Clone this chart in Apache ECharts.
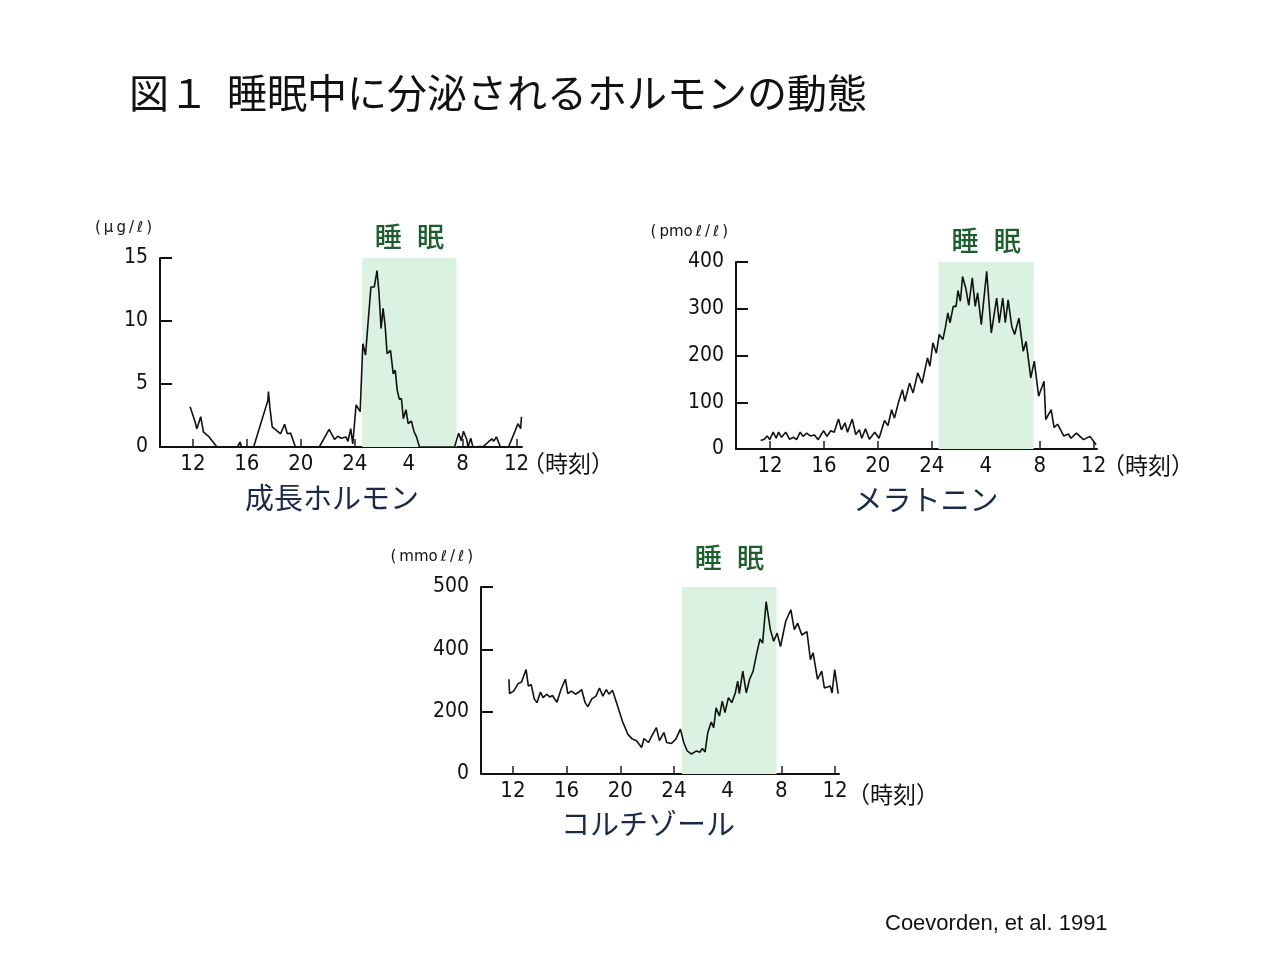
<!DOCTYPE html>
<html>
<head>
<meta charset="utf-8">
<script src="https://cdn.jsdelivr.net/npm/echarts@6/dist/echarts.min.js"></script>
<style>
  html, body { margin: 0; background: #fff; }
  #main { width: 1280px; height: 960px; }
</style>
</head>
<body>
<div id="main"></div>
<script>
// 時刻: 24 = 0時, 28 = 4時 ... 36 = 翌12時
var hourTicks = [12, 16, 20, 24, 28, 32, 36];

// 成長ホルモン (μg/ℓ)
var ghHours = [11.79, 12.16, 12.29, 12.58, 12.78, 13.16, 13.78, 15.3, 15.5, 15.6, 16.5, 17.56, 17.6, 17.7, 17.88,
  18.5, 18.8, 19.0, 19.25, 19.6, 21.37, 22.1, 22.5, 22.75, 23.0, 23.35, 23.5, 23.7, 23.85, 24.1, 24.4,
  24.6, 24.8, 25.0, 25.2, 25.45, 25.65, 25.8, 25.95, 26.1, 26.25, 26.4, 26.65, 26.85, 27.0, 27.15, 27.3,
  27.46, 27.6, 27.8, 27.96, 28.2, 28.4, 28.58, 28.8, 31.4, 31.7, 31.9, 32.06, 32.3, 32.4, 32.6, 32.76,
  33.55, 33.9, 34.17, 34.3, 34.5, 34.8, 35.4, 35.9, 36.1, 36.3, 36.36];
var ghValues = [3.2, 2.0, 1.45, 2.4, 1.2, 0.85, 0, 0, 0.4, 0, 0, 3.7, 4.4, 3.2, 1.6,
  1.05, 1.8, 1.05, 1.1, 0, 0, 1.4, 0.6, 0.85, 0.7, 0.8, 0.45, 1.45, 0.25, 3.35, 2.8,
  8.2, 7.3, 10.05, 12.7, 12.7, 14.0, 12.2, 9.4, 11.0, 9.65, 7.4, 7.67, 5.8, 6.1, 4.5, 3.8,
  3.85, 2.25, 2.96, 1.85, 2.06, 1.2, 0.8, 0, 0, 1.1, 0.5, 1.25, 0.6, 0, 0.7, 0,
  0.05, 0.4, 0.65, 0.45, 0.8, 0, 0, 1.3, 1.85, 1.45, 2.4];
var ghTicks = [0, 5, 10, 15];

// メラトニン (pmoℓ/ℓ)
var melHours = [11.31, 11.58, 11.79, 11.98, 12.24, 12.46, 12.64, 12.85, 13.17, 13.44, 13.76, 13.97, 14.24,
  14.45, 14.72, 14.98, 15.3, 15.57, 15.97, 16.23, 16.5, 16.76, 17.08, 17.3, 17.56, 17.75, 18.1, 18.36,
  18.63, 18.81, 19.08, 19.37, 19.77, 20.09, 20.49, 20.75, 21.02, 21.23, 21.55, 21.82, 22.0, 22.35, 22.61,
  22.96, 23.28, 23.68, 23.86, 24.08, 24.34, 24.55, 24.82, 25.0, 25.19, 25.35, 25.59, 25.8, 25.94, 26.12,
  26.28, 26.52, 26.74, 27.0, 27.22, 27.4, 27.67, 28.07, 28.41, 28.81, 29.0, 29.26, 29.45, 29.66, 29.93,
  30.14, 30.46, 30.78, 30.99, 31.34, 31.6, 31.92, 32.32, 32.45, 32.85, 33.07, 33.33, 33.78, 34.13, 34.32,
  34.72, 35.25, 35.73, 36.18];
var melValues = [18, 21, 28, 20, 36, 23, 36, 25, 36, 21, 25, 20, 36,
  27, 34, 28, 30, 20, 39, 27, 39, 36, 64, 41, 56, 36, 64, 31,
  41, 23, 43, 21, 36, 23, 61, 50, 84, 66, 102, 127, 102, 141, 120,
  163, 141, 195, 177, 227, 205, 245, 234, 259, 291, 270, 305, 305, 339, 316,
  369, 344, 307, 366, 305, 334, 266, 380, 248, 323, 270, 323, 270, 319, 262,
  245, 280, 209, 230, 152, 188, 113, 145, 63, 84, 46, 53, 28, 32, 23,
  34, 20, 27, 9];
var melTicks = [0, 100, 200, 300, 400];

// コルチゾール (mmoℓ/ℓ) — 目盛は等間隔、最上段の表記は原図どおり「500」
var corHours = [11.7, 11.75, 12.05, 12.39, 12.64, 12.98, 13.15, 13.36, 13.59, 13.79, 14.05, 14.25, 14.51,
  14.76, 14.94, 15.28, 15.58, 15.91, 16.09, 16.35, 16.66, 16.91, 17.12, 17.37, 17.58, 17.88, 18.19, 18.45,
  18.7, 18.96, 19.16, 19.42, 19.8, 20.18, 20.57, 20.9, 21.21, 21.59, 21.77, 22.1, 22.35, 22.69, 22.92,
  23.25, 23.46, 23.81, 24.14, 24.48, 24.73, 24.99, 25.3, 25.68, 25.94, 26.11, 26.32, 26.52, 26.78, 26.96,
  27.14, 27.39, 27.6, 27.8, 28.06, 28.31, 28.57, 28.75, 28.87, 29.13, 29.39, 29.64, 29.9, 30.15, 30.41,
  30.61, 30.87, 31.18, 31.43, 31.69, 31.94, 32.33, 32.71, 32.97, 33.22, 33.53, 33.91, 34.17, 34.37, 34.7,
  35.01, 35.21, 35.65, 35.78, 35.98, 36.24];
var corValues = [304, 258, 266, 290, 295, 335, 282, 287, 241, 229, 263, 245, 256,
  247, 252, 230, 271, 304, 258, 266, 256, 263, 271, 230, 216, 241, 250, 276,
  250, 271, 256, 269, 218, 167, 127, 112, 107, 85, 114, 101, 122, 149, 107,
  133, 101, 98, 112, 144, 101, 74, 64, 74, 70, 82, 71, 133, 167, 149,
  212, 186, 234, 197, 245, 229, 260, 298, 258, 330, 260, 304, 330, 383, 433,
  420, 553, 464, 426, 452, 409, 490, 527, 463, 484, 446, 457, 367, 389, 304,
  330, 276, 282, 260, 335, 258];
var corTicks = [0, 200, 400, 600];
var corTickLabels = ['0', '200', '400', '500'];

// 睡眠時間帯 (網掛け)
var ghSleep = [24.55, 31.55];
var melSleep = [24.5, 31.55];
var corSleep = [24.6, 31.65];

var jpFont = '"Noto Sans CJK JP", sans-serif';
var numFont = '"DejaVu Sans Condensed", "DejaVu Sans", sans-serif';

var panels = [
  { name: '成長ホルモン', unit: '(\u2009μ\u2009g\u2009/\u2009ℓ\u2009)', hours: ghHours, values: ghValues, sleep: ghSleep,
    ticks: ghTicks, tickLabels: null,
    left: 160, top: 258, width: 362, height: 189, xMin: 9.56, xMax: 36.4,
    labelGap: 8, timeX: 517, timeY: 458, subX: 327, subY: 493 },
  { name: 'メラトニン', unit: '(\u2009pmo\u2009ℓ\u2009/\u2009ℓ\u2009)', hours: melHours, values: melValues, sleep: melSleep,
    ticks: melTicks, tickLabels: null,
    left: 736, top: 262, width: 361, height: 187, xMin: 9.48, xMax: 36.25,
    labelGap: 8, timeX: 1097, timeY: 460, subX: 921, subY: 495 },
  { name: 'コルチゾール', unit: '(\u2009mmo\u2009ℓ\u2009/\u2009ℓ\u2009)', hours: corHours, values: corValues, sleep: corSleep,
    ticks: corTicks, tickLabels: corTickLabels,
    left: 481, top: 587, width: 358, height: 187, xMin: 9.62, xMax: 36.3,
    labelGap: 16, timeX: 842, timeY: 789, subX: 643, subY: 819 }
];

var grids = [], xAxes = [], yAxes = [], series = [];
var titles = [
  { text: '図１  睡眠中に分泌されるホルモンの動態', left: 124, top: 68,
    textStyle: { fontFamily: jpFont, fontSize: 40, fontWeight: 'normal', color: '#111' } },
  { text: 'Coevorden, et al. 1991', left: 880, top: 908,
    textStyle: { fontFamily: '"Liberation Sans", Arial, sans-serif', fontSize: 22, fontWeight: 'normal', color: '#111' } }
];

panels.forEach(function (p, i) {
  grids.push({ left: p.left, top: p.top, width: p.width, height: p.height });
  xAxes.push({
    gridIndex: i, type: 'value', min: p.xMin, max: p.xMax,
    axisLine: { show: true, onZero: false, lineStyle: { color: '#111', width: 2 } },
    axisTick: { show: true, inside: true, length: 8, customValues: hourTicks, lineStyle: { color: '#222', width: 1.5 } },
    axisLabel: {
      customValues: hourTicks, margin: 6, fontSize: 22, color: '#111', fontFamily: numFont,
      formatter: function (v) { return v > 24 ? String(v - 24) : String(v); }
    },
    splitLine: { show: false }
  });
  var last = p.ticks[p.ticks.length - 1];
  yAxes.push({
    gridIndex: i, type: 'value', min: 0, max: last, interval: p.ticks[1] - p.ticks[0],
    axisLine: { show: true, lineStyle: { color: '#111', width: 2 } },
    axisTick: { show: true, inside: true, length: 12, lineStyle: { color: '#111', width: 2 } },
    axisLabel: {
      margin: 12, fontSize: 21, color: '#111', fontFamily: numFont,
      formatter: function (v) {
        var k = p.ticks.indexOf(v);
        return p.tickLabels && k >= 0 ? p.tickLabels[k] : String(v);
      }
    },
    splitLine: { show: false },
    name: p.unit, nameLocation: 'end', nameGap: 22,
    nameTextStyle: { fontFamily: '"DejaVu Sans", sans-serif', fontSize: 15, color: '#111', align: 'right', padding: [0, 8, 0, 0] }
  });
  series.push({
    type: 'line', xAxisIndex: i, yAxisIndex: i, symbol: 'none', z: 3,
    data: p.hours.map(function (h, k) { return [h, p.values[k]]; }),
    lineStyle: { color: '#111', width: 1.6 },
    markArea: {
      silent: true,
      itemStyle: { color: '#dbf2e2' },
      label: {
        show: true, position: 'top', distance: p.labelGap,
        fontFamily: jpFont, fontSize: 27, fontWeight: 500, color: '#1c5e2e'
      },
      data: [[{ xAxis: p.sleep[0], name: '睡\u2002\u200a眠' }, { xAxis: p.sleep[1] }]]
    }
  });
  titles.push({
    text: p.name, left: p.subX, top: p.subY, textAlign: 'center', textVerticalAlign: 'middle',
    textStyle: { fontFamily: jpFont, fontSize: 29, fontWeight: 'normal', color: '#1b2a48' }
  });
  titles.push({
    text: '（時刻）', left: p.timeX, top: p.timeY, textVerticalAlign: 'middle',
    textStyle: { fontFamily: jpFont, fontSize: 23, fontWeight: 'normal', color: '#111' }
  });
});

var chart = echarts.init(document.getElementById('main'));
chart.setOption({
  animation: false,
  backgroundColor: '#fff',
  title: titles,
  grid: grids,
  xAxis: xAxes,
  yAxis: yAxes,
  series: series
});
</script>
</body>
</html>
